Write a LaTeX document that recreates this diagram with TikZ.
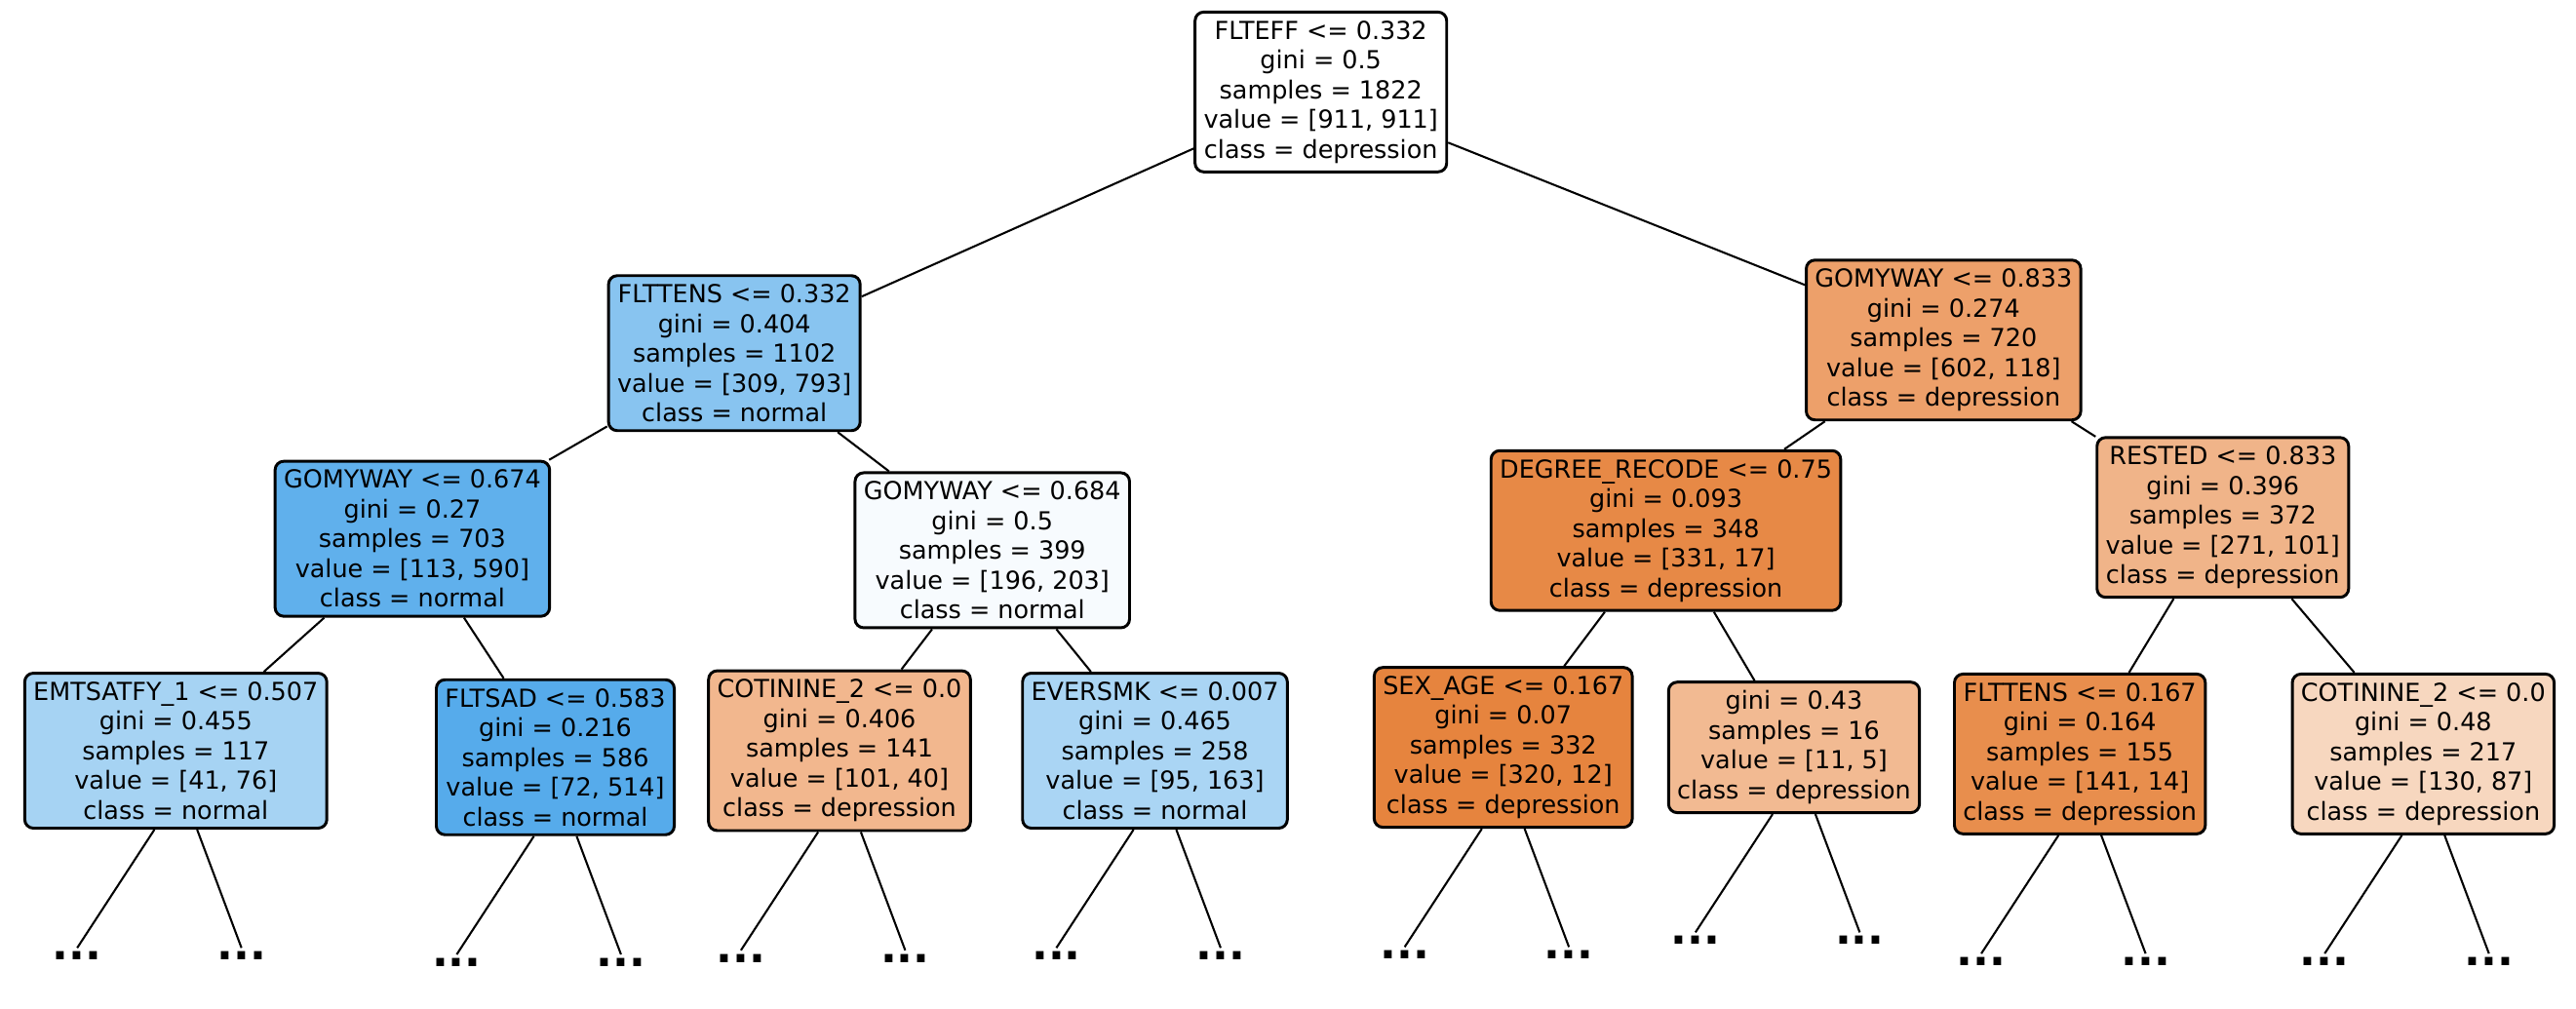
\documentclass[tikz,border=0pt]{standalone}
\usepackage{fontspec}
\setmainfont{DejaVu Sans}
\usetikzlibrary{calc}
\definecolor{cRoot}{HTML}{FFFFFF}
\definecolor{cA}{HTML}{88C4F0}
\definecolor{cB}{HTML}{EDA06A}
\definecolor{cC}{HTML}{60B0EC}
\definecolor{cD}{HTML}{F7FBFE}
\definecolor{cE}{HTML}{E78946}
\definecolor{cF}{HTML}{F0B489}
\definecolor{cG}{HTML}{A6D3F3}
\definecolor{cH}{HTML}{56ABEB}
\definecolor{cI}{HTML}{F2B78E}
\definecolor{cJ}{HTML}{AAD5F4}
\definecolor{cK}{HTML}{E6843E}
\definecolor{cL}{HTML}{F2BA92}
\definecolor{cM}{HTML}{E88E4D}
\definecolor{cN}{HTML}{F7D7BF}
\tikzset{
  split/.style={draw, rounded corners=3pt, line width=1pt, align=center,
    inner sep=3pt, font=\fontsize{8.6}{10.3}\selectfont},
  edge/.style={line width=0.7pt},
  more/.style={font=\fontsize{15}{15}\selectfont\bfseries, inner sep=0pt, anchor=north}
}
\begin{document}
\begin{tikzpicture}[x=0.02cm, y=-0.02cm]
\useasboundingbox (0,0) rectangle (1568,614);
% tree nodes
\node[split, fill=cRoot] (root) at (804,56) {FLTEFF <= 0.332\\gini = 0.5\\samples = 1822\\value = [911, 911]\\class = depression};
\node[split, fill=cA] (n1) at (447,215) {FLTTENS <= 0.332\\gini = 0.404\\samples = 1102\\value = [309, 793]\\class = normal};
\node[split, fill=cB] (n2) at (1183,207) {GOMYWAY <= 0.833\\gini = 0.274\\samples = 720\\value = [602, 118]\\class = depression};
\node[split, fill=cC] (n11) at (251,328) {GOMYWAY <= 0.674\\gini = 0.27\\samples = 703\\value = [113, 590]\\class = normal};
\node[split, fill=cD] (n12) at (604,335) {GOMYWAY <= 0.684\\gini = 0.5\\samples = 399\\value = [196, 203]\\class = normal};
\node[split, fill=cE] (n21) at (1014,323) {DEGREE\_RECODE <= 0.75\\gini = 0.093\\samples = 348\\value = [331, 17]\\class = depression};
\node[split, fill=cF] (n22) at (1353,315) {RESTED <= 0.833\\gini = 0.396\\samples = 372\\value = [271, 101]\\class = depression};
\node[split, fill=cG] (n111) at (107,457) {EMTSATFY\_1 <= 0.507\\gini = 0.455\\samples = 117\\value = [41, 76]\\class = normal};
\node[split, fill=cH] (n112) at (338,461) {FLTSAD <= 0.583\\gini = 0.216\\samples = 586\\value = [72, 514]\\class = normal};
\node[split, fill=cI] (n121) at (511,457) {COTININE\_2 <= 0.0\\gini = 0.406\\samples = 141\\value = [101, 40]\\class = depression};
\node[split, fill=cJ] (n122) at (703,457) {EVERSMK <= 0.007\\gini = 0.465\\samples = 258\\value = [95, 163]\\class = normal};
\node[split, fill=cK] (n211) at (915,455) {SEX\_AGE <= 0.167\\gini = 0.07\\samples = 332\\value = [320, 12]\\class = depression};
\node[split, fill=cL] (n212) at (1092,455) {gini = 0.43\\samples = 16\\value = [11, 5]\\class = depression};
\node[split, fill=cM] (n221) at (1266,459) {FLTTENS <= 0.167\\gini = 0.164\\samples = 155\\value = [141, 14]\\class = depression};
\node[split, fill=cN] (n222) at (1475,459) {COTININE\_2 <= 0.0\\gini = 0.48\\samples = 217\\value = [130, 87]\\class = depression};
% connectors
\draw[edge] (root) -- (n1);
\draw[edge] (root) -- (n2);
\draw[edge] (n1) -- (n11);
\draw[edge] (n1) -- (n12);
\draw[edge] (n2) -- (n21);
\draw[edge] (n2) -- (n22);
\draw[edge] (n11) -- (n111);
\draw[edge] (n11) -- (n112);
\draw[edge] (n12) -- (n121);
\draw[edge] (n12) -- (n122);
\draw[edge] (n21) -- (n211);
\draw[edge] (n21) -- (n212);
\draw[edge] (n22) -- (n221);
\draw[edge] (n22) -- (n222);
% truncated subtrees
\foreach \n in {n111,n112,n121,n122,n211,n212,n221,n222} {
  \coordinate (\n-la) at ($(\n.south)+(-13,0)$);
  \coordinate (\n-ra) at ($(\n.south)+(13,0)$);
  \coordinate (\n-lb) at ($(\n.south)+(-60,72)$);
  \coordinate (\n-rb) at ($(\n.south)+(40,72)$);
  \node[more] (\n-ld) at ($(\n-lb)+(0,2)$) {...};
  \node[more] (\n-rd) at ($(\n-rb)+(0,2)$) {...};
  \draw[edge] (\n-la) -- (\n-lb);
  \draw[edge] (\n-ra) -- (\n-rb);
}
\end{tikzpicture}
\end{document}
